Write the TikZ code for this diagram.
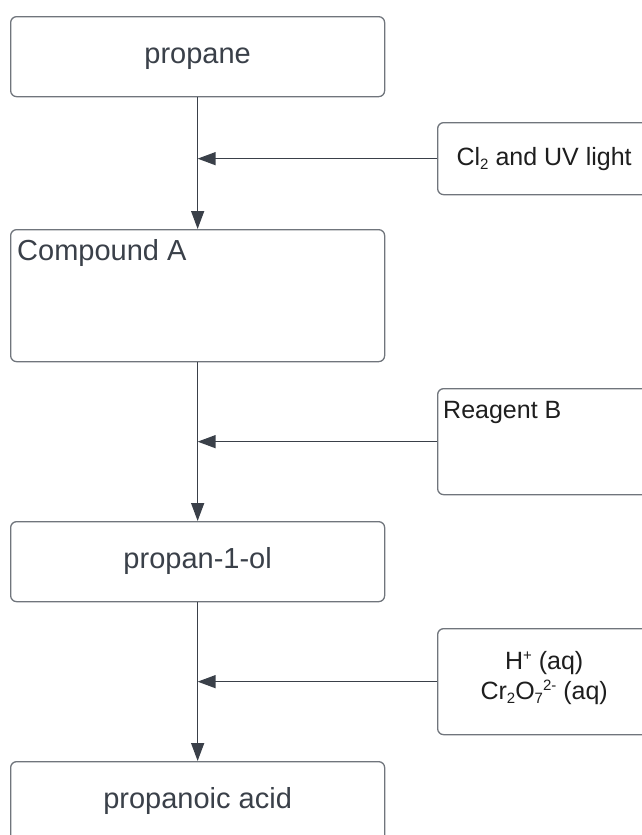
\documentclass[tikz,border=0pt]{standalone}
\usepackage{fontspec}
\setmainfont{Liberation Sans}
\usepackage{tikz}
\usetikzlibrary{arrows.meta}

\definecolor{boxline}{HTML}{70757C}
\definecolor{ink}{HTML}{3A4049}
\definecolor{reagtext}{HTML}{1E1E1E}

% small sub- and superscripts for the formulas
\newcommand{\chemlow}[1]{\raisebox{-0.3ex}{\fontsize{15}{15}\selectfont #1}}
\newcommand{\chemhigh}[1]{\raisebox{0.75ex}{\fontsize{15}{15}\selectfont #1}}

\tikzset{
	stepbox/.style={draw=boxline, line width=1.3pt, rounded corners=6pt, fill=white,
		minimum width=374pt, minimum height=80pt, anchor=north west, inner sep=0pt,
		text=ink, font=\fontsize{29}{34}\selectfont, text height=20.5pt, text depth=6pt},
	condbox/.style={draw=boxline, line width=1.3pt, rounded corners=6pt, fill=white,
		minimum width=213pt, anchor=north west, inner sep=0pt, align=center,
		text=reagtext, font=\fontsize{25}{30}\selectfont},
	arr/.style={draw=ink, line width=1.4pt, -{Triangle[length=18pt,width=13pt]}}
}

\begin{document}
\begin{tikzpicture}[x=1pt, y=-1pt]
	\useasboundingbox (0,0) rectangle (642,835);
	\clip (0,0) rectangle (642,835);
	% main chain
	\node[stepbox] (propane) at (10,16) {propane};
	\node[stepbox, minimum height=132pt] (cmpA) at (10,229) {};
	\node[anchor=north west, inner sep=0pt, text=ink, font=\fontsize{29}{34}\selectfont] (cmpAtxt) at (17,239) {Compound A};
	\node[stepbox] (propanol) at (10,521) {propan-1-ol};
	\node[stepbox] (acid) at (10,761) {propanoic acid};
	% conditions
	\node[condbox, minimum height=72pt] (cl) at (437,122) {Cl\chemlow{2} and UV light};
	\node[condbox, minimum height=106pt] (regB) at (437,388) {};
	\node[anchor=north west, inner sep=0pt, text=reagtext, font=\fontsize{25}{30}\selectfont] (regBtxt) at (443,401) {Reagent B};
	\node[condbox, minimum height=106pt, text depth=12pt] (oxid) at (437,628) {H\chemhigh{+} (aq)\\Cr\chemlow{2}O\chemlow{7}\chemhigh{2-} (aq)};
	% arrows
	\draw[arr] (propane) -- (cmpA);
	\draw[arr] (cmpA) -- (propanol);
	\draw[arr] (propanol) -- (acid);
	\draw[arr] (cl.west) -- (cl.west -| propane.south);
	\draw[arr] (regB.west) -- (regB.west -| propane.south);
	\draw[arr] (oxid.west) -- (oxid.west -| propane.south);
\end{tikzpicture}
\end{document}
